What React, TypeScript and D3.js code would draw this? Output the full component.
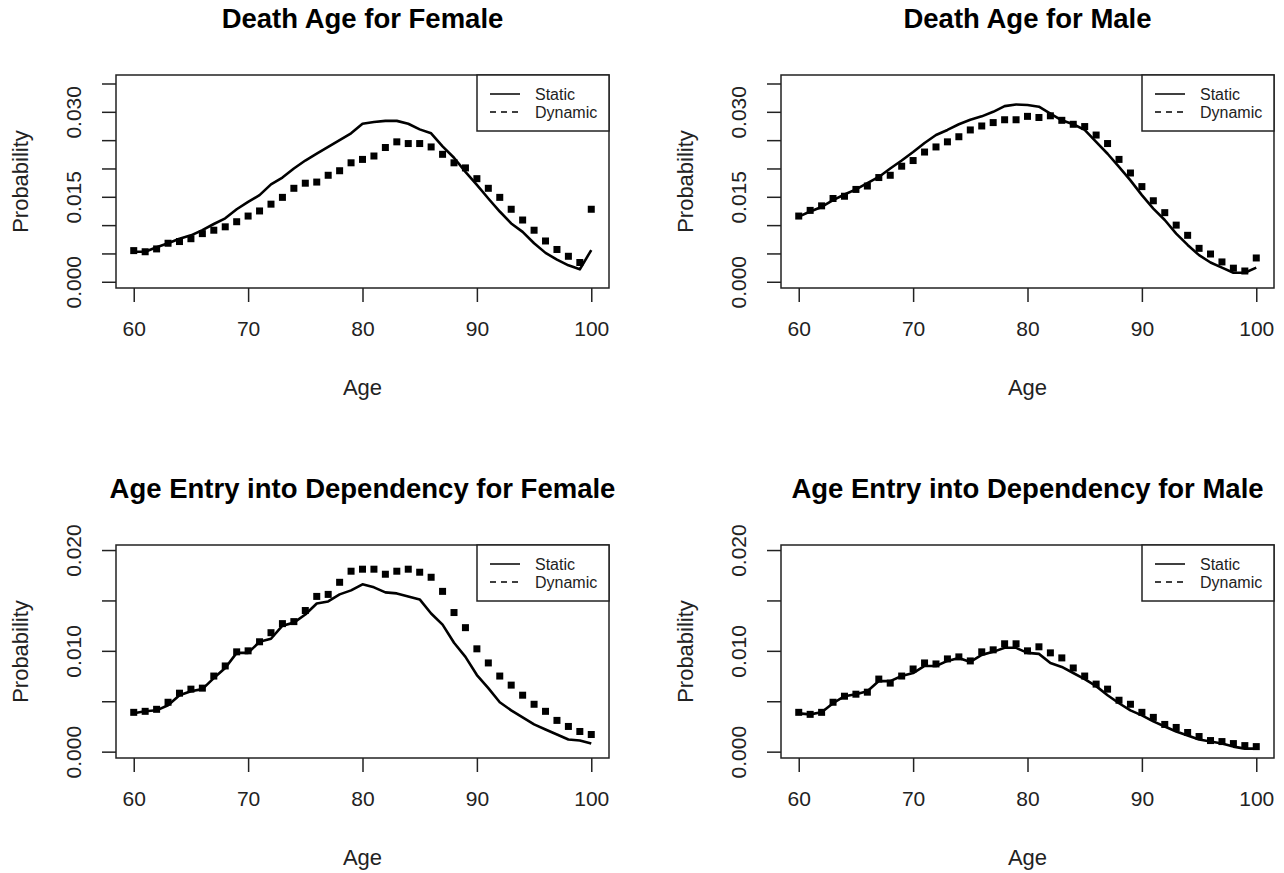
import React, { useEffect, useRef } from 'react';
import * as d3 from 'd3';

// ages on the x axis
const ages = d3.range(60, 101);

// Death age, female
const deathFemaleStatic = [
  0.0053, 0.0053, 0.0061, 0.0068, 0.0076, 0.0082, 0.0091, 0.0102, 0.0112, 0.0128,
  0.0141, 0.0153, 0.0172, 0.0184, 0.0200, 0.0214, 0.0226, 0.0238, 0.0250, 0.0262,
  0.0279, 0.0282, 0.0284, 0.0284, 0.0279, 0.0269, 0.0262, 0.0239, 0.0219, 0.0194,
  0.0171, 0.0147, 0.0124, 0.0103, 0.0088, 0.0068, 0.0051, 0.0039, 0.0029, 0.0022,
  0.0056,
];
const deathFemaleDynamic = [
  0.0055, 0.0053, 0.0058, 0.0068, 0.0071, 0.0076, 0.0085, 0.0091, 0.0097, 0.0106,
  0.0116, 0.0125, 0.0137, 0.0149, 0.0165, 0.0174, 0.0176, 0.0188, 0.0196, 0.0210,
  0.0216, 0.0222, 0.0237, 0.0247, 0.0244, 0.0244, 0.0238, 0.0225, 0.0210, 0.0201,
  0.0182, 0.0165, 0.0149, 0.0128, 0.0109, 0.0091, 0.0072, 0.0057, 0.0045, 0.0034,
  0.0128,
];

// Death age, male
const deathMaleStatic = [
  0.0115, 0.0124, 0.0132, 0.0144, 0.0154, 0.0163, 0.0174, 0.0185, 0.0200, 0.0214,
  0.0229, 0.0245, 0.0259, 0.0268, 0.0278, 0.0286, 0.0292, 0.0300, 0.0310, 0.0313,
  0.0312, 0.0309, 0.0297, 0.0285, 0.0278, 0.0268, 0.0247, 0.0226, 0.0203, 0.0179,
  0.0153, 0.0129, 0.0109, 0.0085, 0.0065, 0.0047, 0.0034, 0.0025, 0.0016, 0.0016,
  0.0025,
];
const deathMaleDynamic = [
  0.0116, 0.0126, 0.0134, 0.0147, 0.0151, 0.0163, 0.0169, 0.0184, 0.0188, 0.0204,
  0.0214, 0.0229, 0.0238, 0.0247, 0.0256, 0.0268, 0.0275, 0.0281, 0.0286, 0.0286,
  0.0292, 0.0290, 0.0293, 0.0285, 0.0278, 0.0274, 0.0259, 0.0244, 0.0216, 0.0192,
  0.0168, 0.0143, 0.0122, 0.0100, 0.0082, 0.0059, 0.0049, 0.0035, 0.0024, 0.0019,
  0.0042,
];

// Age entry into dependency, female
const depFemaleStatic = [
  0.0038, 0.0040, 0.0041, 0.0046, 0.0056, 0.0060, 0.0062, 0.0073, 0.0083, 0.0098,
  0.0098, 0.0109, 0.0112, 0.0125, 0.0128, 0.0136, 0.0147, 0.0149, 0.0156, 0.0160,
  0.0166, 0.0163, 0.0158, 0.0157, 0.0154, 0.0151, 0.0137, 0.0126, 0.0108, 0.0094,
  0.0076, 0.0063, 0.0049, 0.0041, 0.0034, 0.0027, 0.0022, 0.0017, 0.0012, 0.0011,
  0.0008,
];
const depFemaleDynamic = [
  0.0039, 0.0040, 0.0042, 0.0049, 0.0058, 0.0062, 0.0063, 0.0075, 0.0085, 0.0099,
  0.0100, 0.0109, 0.0118, 0.0127, 0.0129, 0.0140, 0.0154, 0.0156, 0.0168, 0.0179,
  0.0181, 0.0181, 0.0176, 0.0179, 0.0181, 0.0178, 0.0173, 0.0159, 0.0138, 0.0123,
  0.0102, 0.0088, 0.0075, 0.0066, 0.0056, 0.0047, 0.0040, 0.0031, 0.0025, 0.0020,
  0.0017,
];

// Age entry into dependency, male
const depMaleStatic = [
  0.0038, 0.0037, 0.0039, 0.0048, 0.0055, 0.0057, 0.0060, 0.0070, 0.0070, 0.0075,
  0.0078, 0.0085, 0.0085, 0.0090, 0.0093, 0.0089, 0.0096, 0.0099, 0.0103, 0.0103,
  0.0098, 0.0097, 0.0088, 0.0084, 0.0078, 0.0072, 0.0065, 0.0056, 0.0048, 0.0041,
  0.0036, 0.0030, 0.0025, 0.0020, 0.0016, 0.0012, 0.0010, 0.0008, 0.0005, 0.0003,
  0.0003,
];
const depMaleDynamic = [
  0.0039, 0.0037, 0.0039, 0.0049, 0.0055, 0.0057, 0.0059, 0.0072, 0.0068, 0.0075,
  0.0082, 0.0088, 0.0087, 0.0092, 0.0094, 0.0090, 0.0099, 0.0101, 0.0107, 0.0107,
  0.0100, 0.0104, 0.0098, 0.0093, 0.0083, 0.0075, 0.0067, 0.0062, 0.0051, 0.0047,
  0.0039, 0.0034, 0.0027, 0.0024, 0.0019, 0.0015, 0.0011, 0.0010, 0.0008, 0.0006,
  0.0005,
];

const xTicks = [60, 70, 80, 90, 100];
const deathYTicks = [0, 0.005, 0.01, 0.015, 0.02, 0.025, 0.03, 0.035];
const deathYLabels = [0, 0.015, 0.03];
const depYTicks = [0, 0.005, 0.01, 0.015, 0.02];
const depYLabels = [0, 0.01, 0.02];
const legendLabels = ['Static', 'Dynamic'];

const FONT = '"Liberation Sans", Arial, Helvetica, sans-serif';
const W = 493; // plot box width
const H = 213; // plot box height

const panels = [
  { title: 'Death Age for Female', left: 116, top: 75, stat: deathFemaleStatic, dyn: deathFemaleDynamic, yDomain: [-0.0011, 0.0365], yTicks: deathYTicks, yLabels: deathYLabels },
  { title: 'Death Age for Male', left: 781, top: 75, stat: deathMaleStatic, dyn: deathMaleDynamic, yDomain: [-0.0011, 0.0365], yTicks: deathYTicks, yLabels: deathYLabels },
  { title: 'Age Entry into Dependency for Female', left: 116, top: 545, stat: depFemaleStatic, dyn: depFemaleDynamic, yDomain: [-0.00063, 0.0205], yTicks: depYTicks, yLabels: depYLabels },
  { title: 'Age Entry into Dependency for Male', left: 781, top: 545, stat: depMaleStatic, dyn: depMaleDynamic, yDomain: [-0.00063, 0.0205], yTicks: depYTicks, yLabels: depYLabels },
];

function drawPanel(svg, p) {
  const bottom = p.top + H;
  const x = d3.scaleLinear().domain([58.45, 101.55]).range([p.left, p.left + W]);
  const y = d3.scaleLinear().domain(p.yDomain).range([bottom, p.top]);
  const g = svg.append('g');

  // title
  g.append('text')
    .attr('x', p.left + W / 2)
    .attr('y', p.top - 47)
    .attr('text-anchor', 'middle')
    .attr('font-weight', 'bold')
    .attr('font-size', 27.5)
    .attr('fill', '#000')
    .text(p.title);

  // x axis
  const xa = g.append('g')
    .attr('transform', `translate(0,${bottom})`)
    .call(d3.axisBottom(x).tickValues(xTicks).tickSize(14).tickSizeOuter(0).tickFormat(d3.format('d')));
  xa.select('.domain').remove();
  xa.attr('font-family', FONT).attr('font-size', 21);
  xa.selectAll('.tick line').attr('stroke', '#222').attr('stroke-width', 1.5);
  xa.selectAll('.tick text').attr('y', 48).attr('dy', null).attr('fill', '#222');

  // y axis, labels rotated like base R
  const ya = g.append('g')
    .attr('transform', `translate(${p.left},0)`)
    .call(d3.axisLeft(y).tickValues(p.yTicks).tickSize(14).tickSizeOuter(0)
      .tickFormat((d) => (p.yLabels.includes(d) ? d3.format('.3f')(d) : '')));
  ya.select('.domain').remove();
  ya.attr('font-family', FONT).attr('font-size', 21);
  ya.selectAll('.tick line').attr('stroke', '#222').attr('stroke-width', 1.5);
  ya.selectAll('.tick text')
    .attr('transform', 'rotate(-90)')
    .attr('x', 0)
    .attr('y', -35)
    .attr('dy', null)
    .attr('text-anchor', 'middle')
    .attr('fill', '#222');

  // axis titles
  g.append('text')
    .attr('x', p.left + W / 2)
    .attr('y', bottom + 107)
    .attr('text-anchor', 'middle')
    .attr('font-size', 22)
    .attr('fill', '#222')
    .text('Age');
  g.append('text')
    .attr('transform', `translate(${p.left - 88},${p.top + H / 2}) rotate(-90)`)
    .attr('text-anchor', 'middle')
    .attr('font-size', 22)
    .attr('fill', '#222')
    .text('Probability');

  // static line
  const line = d3.line().x((d, i) => x(ages[i])).y((d) => y(d));
  g.append('path')
    .datum(p.stat)
    .attr('fill', 'none')
    .attr('stroke', '#000')
    .attr('stroke-width', 2.6)
    .attr('stroke-linejoin', 'round')
    .attr('d', line);

  // dynamic points
  g.append('g')
    .selectAll('rect')
    .data(p.dyn)
    .join('rect')
    .attr('x', (d, i) => x(ages[i]) - 3.5)
    .attr('y', (d) => y(d) - 3.5)
    .attr('width', 7)
    .attr('height', 7)
    .attr('fill', '#000');

  // plot box
  g.append('rect')
    .attr('x', p.left)
    .attr('y', p.top)
    .attr('width', W)
    .attr('height', H)
    .attr('fill', 'none')
    .attr('stroke', '#222')
    .attr('stroke-width', 1.5);

  // legend (top right)
  const lg = g.append('g').attr('transform', `translate(${p.left + W - 132},${p.top})`);
  lg.append('rect')
    .attr('width', 132)
    .attr('height', 56)
    .attr('fill', '#fff')
    .attr('stroke', '#222')
    .attr('stroke-width', 1.5);
  legendLabels.forEach((lab, i) => {
    const ly = 19 + i * 18;
    lg.append('line')
      .attr('x1', 13)
      .attr('x2', 43)
      .attr('y1', ly)
      .attr('y2', ly)
      .attr('stroke', '#000')
      .attr('stroke-width', 1.5)
      .attr('stroke-dasharray', i === 1 ? '6,5' : null);
    lg.append('text')
      .attr('x', 58)
      .attr('y', ly + 5.5)
      .attr('font-size', 16)
      .attr('fill', '#222')
      .text(lab);
  });
}

export default function App() {
  const ref = useRef(null);

  useEffect(() => {
    const svg = d3.select(ref.current);
    svg.selectAll('*').remove();
    panels.forEach((p) => drawPanel(svg, p));
  }, []);

  return (
    <svg
      ref={ref}
      width={1284}
      height={873}
      fontFamily={FONT}
      style={{ position: 'absolute', left: 0, top: 0, background: '#fff' }}
    />
  );
}
